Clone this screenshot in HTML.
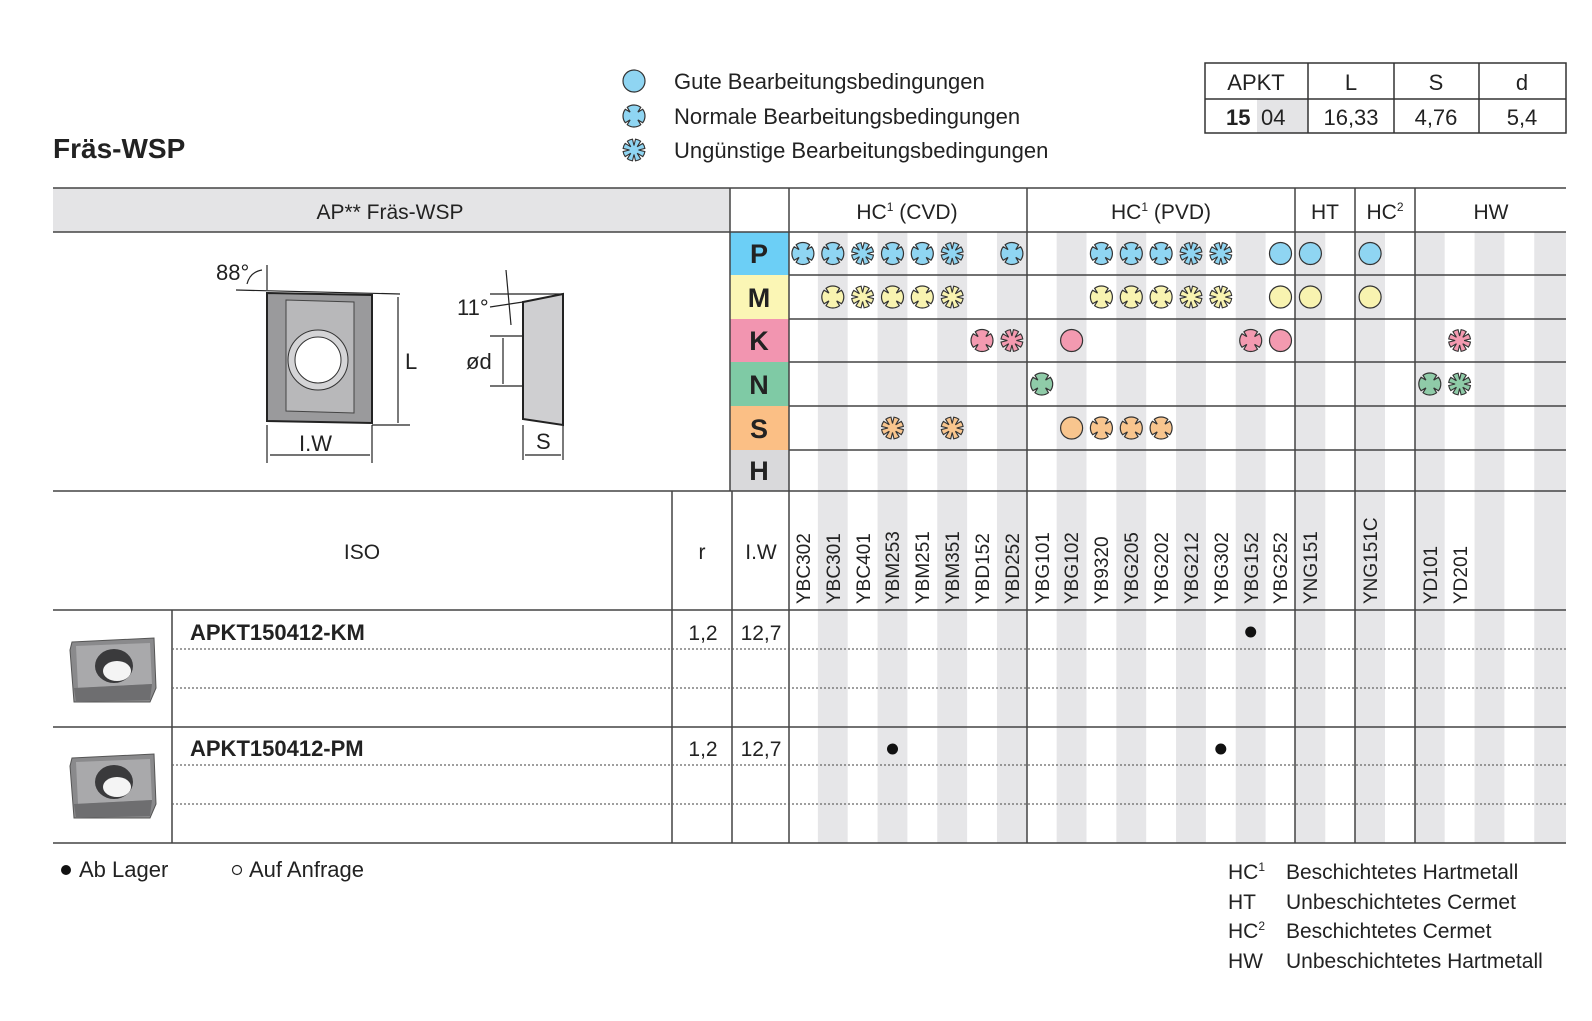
<!DOCTYPE html>
<html><head><meta charset="utf-8"><style>
html,body{margin:0;padding:0;background:#fff;}
svg{display:block;font-family:"Liberation Sans",sans-serif;}
</style></head><body>
<svg width="1592" height="1021" viewBox="0 0 1592 1021" xmlns="http://www.w3.org/2000/svg">
<defs>
<path id="cr" stroke="#333" stroke-width="1.2" d="M6.77,8.67 A11 11 0 0 1 -6.77,8.67 L-3.89,3.89 L-8.67,6.77 A11 11 0 0 1 -8.67,-6.77 L-3.89,-3.89 L-6.77,-8.67 A11 11 0 0 1 6.77,-8.67 L3.89,-3.89 L8.67,-6.77 A11 11 0 0 1 8.67,6.77 L3.89,3.89 Z"/>
<path id="st" stroke="#333" stroke-width="1.1" d="M10.89,1.53 A11 11 0 0 1 8.78,6.62 L3.18,3.18 L6.62,8.78 A11 11 0 0 1 1.53,10.89 L0,4.5 L-1.53,10.89 A11 11 0 0 1 -6.62,8.78 L-3.18,3.18 L-8.78,6.62 A11 11 0 0 1 -10.89,1.53 L-4.5,0 L-10.89,-1.53 A11 11 0 0 1 -8.78,-6.62 L-3.18,-3.18 L-6.62,-8.78 A11 11 0 0 1 -1.53,-10.89 L0,-4.5 L1.53,-10.89 A11 11 0 0 1 6.62,-8.78 L3.18,-3.18 L8.78,-6.62 A11 11 0 0 1 10.89,-1.53 L4.5,0 Z"/>
<circle id="ci" r="11" stroke="#333" stroke-width="1.2"/>
<g id="ins">
<path d="M2,6 L84,2 L86,52 L80,66 L4,66 L0,14 Z" fill="#8a8a8c" stroke="#555"/>
<path d="M6,10 L80,7 L82,48 L8,52 Z" fill="#a9a9ab"/>
<path d="M4,52 L82,48 L80,64 L6,66 Z" fill="#6e6e70"/>
<ellipse cx="44" cy="30" rx="19" ry="17" fill="#3a3a3c"/>
<ellipse cx="47" cy="35" rx="14" ry="10" fill="#f4f4f4"/>
</g>
</defs>

<text x="53" y="158" font-size="28" font-weight="bold" fill="#222">Fräs-WSP</text>

<use href="#ci" x="634" y="81" fill="#8fd5f2"/>
<use href="#cr" x="634" y="116" fill="#8fd5f2"/>
<use href="#st" x="634" y="150" fill="#8fd5f2"/>
<g font-size="22" fill="#222">
<text x="674" y="89">Gute Bearbeitungsbedingungen</text>
<text x="674" y="124">Normale Bearbeitungsbedingungen</text>
<text x="674" y="158">Ungünstige Bearbeitungsbedingungen</text>
</g>

<rect x="1257" y="99" width="51" height="34" fill="#e4e4e6"/>
<g stroke="#333" stroke-width="1.5" fill="none">
<rect x="1205" y="63" width="361" height="70"/>
<line x1="1205" y1="99" x2="1566" y2="99"/>
<line x1="1308" y1="63" x2="1308" y2="133"/>
<line x1="1394" y1="63" x2="1394" y2="133"/>
<line x1="1479" y1="63" x2="1479" y2="133"/>
</g>
<g font-size="22" fill="#222" text-anchor="middle">
<text x="1256" y="90">APKT</text><text x="1351" y="90">L</text><text x="1436" y="90">S</text><text x="1522" y="90">d</text>
<text x="1351" y="125">16,33</text><text x="1436" y="125">4,76</text><text x="1522" y="125">5,4</text>
</g>
<text x="1226" y="125" font-size="22" font-weight="bold" fill="#222">15</text>
<text x="1261" y="125" font-size="22" fill="#222">04</text>

<rect x="53" y="188" width="677" height="44" fill="#e4e4e6"/>
<text x="390" y="219" font-size="21" text-anchor="middle" fill="#222">AP** Fräs-WSP</text>

<g fill="#e6e6e8">
<rect x="817.85" y="232" width="29.85" height="611"/>
<rect x="877.55" y="232" width="29.85" height="611"/>
<rect x="937.25" y="232" width="29.85" height="611"/>
<rect x="996.95" y="232" width="29.85" height="611"/>
<rect x="1056.65" y="232" width="29.85" height="611"/>
<rect x="1116.35" y="232" width="29.85" height="611"/>
<rect x="1176.05" y="232" width="29.85" height="611"/>
<rect x="1235.75" y="232" width="29.85" height="611"/>
<rect x="1295.45" y="232" width="29.85" height="611"/>
<rect x="1355.15" y="232" width="29.85" height="611"/>
<rect x="1414.85" y="232" width="29.85" height="611"/>
<rect x="1474.55" y="232" width="29.85" height="611"/>
<rect x="1534.25" y="232" width="31.75" height="611"/>
</g>

<rect x="730" y="232" width="59" height="43" fill="#6ccff6"/>
<rect x="730" y="275" width="59" height="44" fill="#fbf6b5"/>
<rect x="730" y="319" width="59" height="43" fill="#f295b0"/>
<rect x="730" y="362" width="59" height="44" fill="#7fcaa5"/>
<rect x="730" y="406" width="59" height="44" fill="#fbbf85"/>
<rect x="730" y="450" width="59" height="41" fill="#d9d9db"/>
<g font-size="27" font-weight="bold" fill="#222" text-anchor="middle">
<text x="759" y="263">P</text><text x="759" y="307">M</text><text x="759" y="350">K</text>
<text x="759" y="394">N</text><text x="759" y="438">S</text><text x="759" y="480">H</text>
</g>

<g font-size="21" fill="#222" text-anchor="middle">
<text x="907" y="219">HC<tspan font-size="12" dy="-8">1</tspan><tspan dy="8"> (CVD)</tspan></text>
<text x="1161" y="219">HC<tspan font-size="12" dy="-8">1</tspan><tspan dy="8"> (PVD)</tspan></text>
<text x="1325" y="219">HT</text>
<text x="1385" y="219">HC<tspan font-size="12" dy="-8">2</tspan></text>
<text x="1491" y="219">HW</text>
</g>

<g stroke="#444" stroke-width="1.5">
<line x1="53" y1="188" x2="1566" y2="188"/>
<line x1="53" y1="232" x2="1566" y2="232"/>
<line x1="789" y1="275" x2="1566" y2="275"/>
<line x1="789" y1="319" x2="1566" y2="319"/>
<line x1="789" y1="362" x2="1566" y2="362"/>
<line x1="789" y1="406" x2="1566" y2="406"/>
<line x1="789" y1="450" x2="1566" y2="450"/>
<line x1="53" y1="491" x2="1566" y2="491"/>
<line x1="53" y1="610" x2="1566" y2="610"/>
<line x1="53" y1="727" x2="1566" y2="727"/>
<line x1="53" y1="843" x2="1566" y2="843"/>
<line x1="730" y1="188" x2="730" y2="491"/>
<line x1="789" y1="188" x2="789" y2="843"/>
<line x1="1027" y1="188" x2="1027" y2="843"/>
<line x1="1295" y1="188" x2="1295" y2="843"/>
<line x1="1355" y1="188" x2="1355" y2="843"/>
<line x1="1415" y1="188" x2="1415" y2="843"/>
<line x1="672" y1="491" x2="672" y2="843"/>
<line x1="732" y1="491" x2="732" y2="843"/>
<line x1="172" y1="610" x2="172" y2="843"/>
</g>
<g stroke="#666" stroke-width="1.2" stroke-dasharray="2 2">
<line x1="172" y1="649" x2="1566" y2="649"/>
<line x1="172" y1="688" x2="1566" y2="688"/>
<line x1="172" y1="765" x2="1566" y2="765"/>
<line x1="172" y1="804" x2="1566" y2="804"/>
</g>

<g fill="#8fd5f2">
<use href="#cr" x="802.9" y="253.5"/><use href="#cr" x="832.8" y="253.5"/><use href="#st" x="862.6" y="253.5"/><use href="#cr" x="892.5" y="253.5"/><use href="#cr" x="922.3" y="253.5"/><use href="#st" x="952.2" y="253.5"/><use href="#cr" x="1011.9" y="253.5"/>
<use href="#cr" x="1101.4" y="253.5"/><use href="#cr" x="1131.3" y="253.5"/><use href="#cr" x="1161.1" y="253.5"/><use href="#st" x="1191" y="253.5"/><use href="#st" x="1220.8" y="253.5"/><use href="#ci" x="1280.5" y="253.5"/><use href="#ci" x="1310.4" y="253.5"/><use href="#ci" x="1370.1" y="253.5"/>
</g>
<g fill="#f8f3b0">
<use href="#cr" x="832.8" y="297"/><use href="#st" x="862.6" y="297"/><use href="#cr" x="892.5" y="297"/><use href="#cr" x="922.3" y="297"/><use href="#st" x="952.2" y="297"/>
<use href="#cr" x="1101.4" y="297"/><use href="#cr" x="1131.3" y="297"/><use href="#cr" x="1161.1" y="297"/><use href="#st" x="1191" y="297"/><use href="#st" x="1220.8" y="297"/><use href="#ci" x="1280.5" y="297"/><use href="#ci" x="1310.4" y="297"/><use href="#ci" x="1370.1" y="297"/>
</g>
<g fill="#f39ab0">
<use href="#cr" x="982" y="340.5"/><use href="#st" x="1011.9" y="340.5"/><use href="#ci" x="1071.6" y="340.5"/><use href="#cr" x="1250.7" y="340.5"/><use href="#ci" x="1280.5" y="340.5"/><use href="#st" x="1459.6" y="340.5"/>
</g>
<g fill="#8fcba8">
<use href="#cr" x="1041.7" y="384"/><use href="#cr" x="1429.8" y="384"/><use href="#st" x="1459.6" y="384"/>
</g>
<g fill="#f8c58e">
<use href="#st" x="892.5" y="428"/><use href="#st" x="952.2" y="428"/><use href="#ci" x="1071.6" y="428"/><use href="#cr" x="1101.4" y="428"/><use href="#cr" x="1131.3" y="428"/><use href="#cr" x="1161.1" y="428"/>
</g>

<g stroke="#222" stroke-width="1.2" fill="none">
<line x1="236" y1="290" x2="400" y2="294"/>
<line x1="267" y1="265" x2="267" y2="290"/>
<line x1="372" y1="425" x2="410" y2="425"/>
<line x1="398" y1="297" x2="398" y2="423"/>
<line x1="267" y1="425" x2="267" y2="463"/>
<line x1="372" y1="425" x2="372" y2="463"/>
<line x1="270" y1="455" x2="370" y2="455"/>
<path d="M247,284 Q250,272 262,270"/>
</g>
<path d="M267,293 L372,295 L372,423 L267,421 Z" fill="#9a9a9c" stroke="#222" stroke-width="2"/>
<path d="M286,300 L354,302 L354,413 L286,411 Z" fill="#b8b8ba" stroke="#444"/>
<circle cx="318" cy="360" r="30" fill="#d4d4d6" stroke="#333"/>
<circle cx="318" cy="360" r="23" fill="#fff" stroke="#333"/>
<text x="216" y="280" font-size="22" fill="#222">88°</text>
<text x="405" y="369" font-size="22" fill="#222">L</text>
<text x="299" y="451" font-size="22" fill="#222">I.W</text>
<path d="M523,302 L563,294 L563,425 L523,419 Z" fill="#cfcfd1" stroke="#222" stroke-width="2"/>
<g stroke="#222" stroke-width="1.2" fill="none">
<line x1="490" y1="294" x2="563" y2="294"/>
<line x1="490" y1="307" x2="523" y2="302"/>
<line x1="506" y1="270" x2="511" y2="325"/>
<line x1="490" y1="336" x2="523" y2="336"/>
<line x1="490" y1="386" x2="523" y2="386"/>
<line x1="503" y1="338" x2="503" y2="384"/>
<line x1="523" y1="425" x2="523" y2="460"/>
<line x1="563" y1="425" x2="563" y2="460"/>
<line x1="525" y1="455" x2="561" y2="455"/>
</g>
<text x="457" y="315" font-size="22" fill="#222">11°</text>
<text x="466" y="369" font-size="22" fill="#222">ød</text>
<text x="536" y="449" font-size="22" fill="#222">S</text>

<g font-size="21" fill="#222" text-anchor="middle">
<text x="362" y="559">ISO</text><text x="702" y="559">r</text><text x="761" y="559">I.W</text>
</g>
<g font-size="19" fill="#222">
<text transform="translate(810,604) rotate(-90)">YBC302</text>
<text transform="translate(840,604) rotate(-90)">YBC301</text>
<text transform="translate(870,604) rotate(-90)">YBC401</text>
<text transform="translate(899,604) rotate(-90)">YBM253</text>
<text transform="translate(929,604) rotate(-90)">YBM251</text>
<text transform="translate(959,604) rotate(-90)">YBM351</text>
<text transform="translate(989,604) rotate(-90)">YBD152</text>
<text transform="translate(1019,604) rotate(-90)">YBD252</text>
<text transform="translate(1049,604) rotate(-90)">YBG101</text>
<text transform="translate(1078,604) rotate(-90)">YBG102</text>
<text transform="translate(1108,604) rotate(-90)">YB9320</text>
<text transform="translate(1138,604) rotate(-90)">YBG205</text>
<text transform="translate(1168,604) rotate(-90)">YBG202</text>
<text transform="translate(1198,604) rotate(-90)">YBG212</text>
<text transform="translate(1228,604) rotate(-90)">YBG302</text>
<text transform="translate(1258,604) rotate(-90)">YBG152</text>
<text transform="translate(1287,604) rotate(-90)">YBG252</text>
<text transform="translate(1317,604) rotate(-90)">YNG151</text>
<text transform="translate(1377,604) rotate(-90)">YNG151C</text>
<text transform="translate(1437,604) rotate(-90)">YD101</text>
<text transform="translate(1467,604) rotate(-90)">YD201</text>
</g>

<use href="#ins" x="70" y="636"/>
<use href="#ins" x="70" y="752"/>
<g font-size="22" font-weight="bold" fill="#222">
<text x="190" y="640">APKT150412-KM</text>
<text x="190" y="756">APKT150412-PM</text>
</g>
<g font-size="21" fill="#222" text-anchor="middle">
<text x="703" y="640">1,2</text><text x="761" y="640">12,7</text>
<text x="703" y="756">1,2</text><text x="761" y="756">12,7</text>
</g>
<g fill="#111">
<circle cx="1250.7" cy="632" r="5.5"/>
<circle cx="892.5" cy="749" r="5.5"/>
<circle cx="1220.8" cy="749" r="5.5"/>
</g>

<circle cx="66" cy="870" r="5" fill="#111"/>
<text x="79" y="877" font-size="22" fill="#222">Ab Lager</text>
<circle cx="237" cy="870" r="4.5" fill="none" stroke="#222" stroke-width="1.2"/>
<text x="249" y="877" font-size="22" fill="#222">Auf Anfrage</text>
<g font-size="21" fill="#222">
<text x="1228" y="879">HC<tspan font-size="12" dy="-8">1</tspan></text>
<text x="1228" y="909">HT</text>
<text x="1228" y="938">HC<tspan font-size="12" dy="-8">2</tspan></text>
<text x="1228" y="968">HW</text>
<text x="1286" y="879">Beschichtetes Hartmetall</text>
<text x="1286" y="909">Unbeschichtetes Cermet</text>
<text x="1286" y="938">Beschichtetes Cermet</text>
<text x="1286" y="968">Unbeschichtetes Hartmetall</text>
</g>
</svg>
</body></html>
